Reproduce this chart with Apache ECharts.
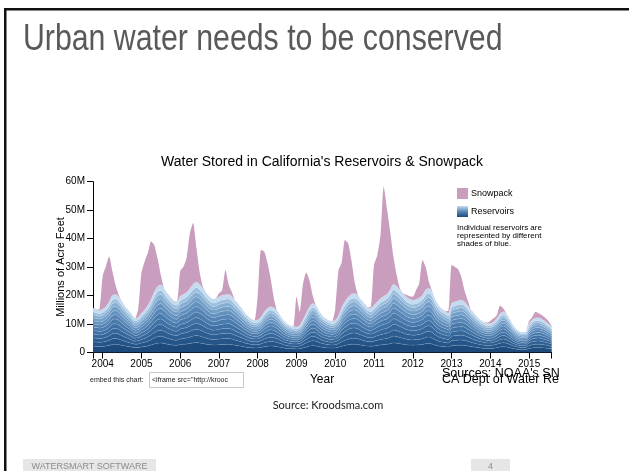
<!DOCTYPE html>
<html>
<head>
<meta charset="utf-8">
<script src="https://cdn.jsdelivr.net/npm/echarts@6/dist/echarts.min.js"></script>
<style>
html,body{margin:0;padding:0;background:#fff;}
#chart{width:629px;height:471px;}
</style>
</head>
<body>
<div id="chart"></div>
<script>
// Monthly values, Oct 2003 .. Aug 2015 (millions of acre-feet)
const startYear = 2003, startMonth = 10; // October 2003
const yTicks = [0, 10, 20, 30, 40, 50, 60];

const reservoirTotal = [
  15.5, 15.2, 14.9,
  15.3, 16.2, 17.8, 20.0, 20.4, 19.5, 17.8, 16.2, 14.8, 13.4, 12.0, 12.4,
  13.8, 15.0, 16.6, 18.8, 21.3, 23.2, 23.8, 22.5, 20.8, 19.5, 18.3, 18.0,
  19.8, 20.5, 21.2, 22.5, 24.0, 24.8, 24.0, 22.7, 21.0, 19.8, 18.9, 19.0,
  19.6, 20.1, 20.3, 20.4, 19.7, 18.3, 17.0, 15.6, 14.0, 12.8, 11.8, 11.4,
  11.5, 12.5, 14.2, 15.5, 16.2, 15.7, 14.6, 13.0, 11.3, 10.2, 9.5, 9.1,
  9.0, 9.5, 11.5, 13.8, 16.0, 17.2, 16.5, 14.6, 13.0, 12.0, 11.3, 11.0,
  11.4, 13.0, 15.8, 17.8, 19.5, 20.5, 20.7, 20.0, 18.5, 17.2, 16.0, 15.6,
  16.6, 17.8, 19.0, 19.8, 20.5, 22.0, 24.0, 23.3, 22.0, 20.8, 19.5, 18.8,
  18.4, 18.6, 19.2, 20.1, 22.0, 22.6, 21.3, 18.5, 16.6, 15.4, 14.6, 13.8,
  17.2, 17.8, 18.1, 18.4, 17.8, 16.5, 15.0, 13.7, 12.4, 11.4, 10.7, 10.2,
  10.2, 10.8, 12.0, 13.6, 14.3, 13.5, 11.8, 9.8, 8.3, 7.4, 7.2, 7.4,
  10.0, 11.5, 12.1, 12.2, 11.7, 11.0, 10.0, 9.0
];

const snowpack = [
  0, 0, 0.5,
  11.5, 14.1, 15.9, 8.5, 3.2, 0.6, 0, 0, 0, 0, 0, 3.0,
  14.2, 17.0, 18.4, 20.3, 16.4, 9.8, 3.4, 0, 0, 0, 0, 0,
  8.8, 9.6, 12.3, 19.5, 21.5, 12.2, 4.4, 0.5, 0, 0, 0, 0,
  1.2, 1.8, 8.7, 3.5, 1.5, 0, 0, 0, 0, 0, 0, 0,
  8.5, 23.5, 21.3, 16.0, 9.8, 3.3, 0, 0, 0, 0, 0, 0,
  10.6, 4.8, 12.5, 14.3, 9.4, 2.9, 0, 0, 0, 0, 0, 0,
  4.0, 15.9, 15.8, 21.7, 18.8, 11.9, 4.1, 0.3, 0, 0, 0, 0.5,
  14.1, 16.4, 22.2, 38.5, 30.1, 20.4, 9.6, 3.9, 0.5, 0, 0.8, 1.0,
  1.2, 3.3, 5.0, 12.4, 8.0, 2.2, 0.3, 0, 0, 0, 0, 0.8,
  13.5, 12.3, 11.1, 8.2, 4.1, 1.9, 0, 0, 0, 0, 0, 0.3,
  0.9, 1.2, 1.1, 2.8, 1.2, 0, 0, 0, 0, 0, 0, 0,
  1.0, 1.0, 2.2, 1.5, 1.4, 1.2, 1.1, 0.3
];

// Approximate share of total storage held by each reservoir band (bottom -> top)
const reservoirShares = [0.14, 0.10, 0.09, 0.085, 0.08, 0.08, 0.075, 0.07, 0.07, 0.065, 0.065, 0.08];
const blueShades = ['#1c4a7b', '#245588', '#2c5e92', '#35679b', '#3f71a4', '#4a7bad', '#5685b6', '#6391bf', '#739ec8', '#86add2', '#9dc0de', '#c3daef'];
const snowColor = '#c89dbd';

const FONT = "'Liberation Sans', Helvetica, Arial, sans-serif";

// month categories "YYYY-MM"
const months = reservoirTotal.map((_, i) => {
  const m = startMonth - 1 + i;
  const y = startYear + Math.floor(m / 12);
  const mm = (m % 12) + 1;
  return y + '-' + (mm < 10 ? '0' + mm : mm);
});
const lastIdx = months.length - 1;

const series = [];
reservoirShares.forEach((share, k) => {
  series.push({
    type: 'line', stack: 'water', smooth: 0.3, showSymbol: false, silent: true,
    lineStyle: { width: 0.6, color: 'rgba(255,255,255,0.22)' },
    areaStyle: { color: blueShades[k], opacity: 1 },
    data: reservoirTotal.map(v => +(v * share).toFixed(3))
  });
});
series.push({
  type: 'line', stack: 'water', smooth: 0.2, showSymbol: false, silent: true,
  lineStyle: { width: 0 },
  areaStyle: { color: snowColor, opacity: 1 },
  data: snowpack
});

const chart = echarts.init(document.getElementById('chart'), null, { renderer: 'canvas' });
chart.setOption({
  animation: false,
  backgroundColor: '#ffffff',
  grid: { left: 93, right: 77.3, top: 181.7, bottom: 118.5 },
  xAxis: {
    type: 'category', data: months, boundaryGap: false,
    axisLine: { show: true, lineStyle: { color: '#000', width: 1 } },
    axisTick: { show: true, length: 6, lineStyle: { color: '#000' },
      interval: (i, v) => i === 0 || i === lastIdx || v.slice(5) === '01' },
    axisLabel: { interval: (i, v) => v.slice(5) === '01', formatter: v => v.slice(0, 4),
      color: '#000', fontSize: 10, fontFamily: FONT, margin: 7 },
    splitLine: { show: false }
  },
  yAxis: {
    type: 'value', min: 0, max: 60, interval: 10,
    axisLine: { show: true, lineStyle: { color: '#000', width: 1 } },
    axisTick: { show: true, length: 6, lineStyle: { color: '#000' } },
    axisLabel: { formatter: v => v === 0 ? '0' : v + 'M', color: '#000', fontSize: 10, fontFamily: FONT, margin: 8 },
    splitLine: { show: false }
  },
  series: series,
  graphic: [
    // slide frame
    { type: 'rect', shape: { x: 4, y: 8, width: 625, height: 2.5 }, style: { fill: '#111' } },
    { type: 'rect', shape: { x: 4, y: 8, width: 2.5, height: 463 }, style: { fill: '#111' } },
    // slide title
    { type: 'text', x: 23, y: 40, scaleX: 0.818, style: { text: 'Urban water needs to be conserved', fill: '#595959', font: "37px 'Liberation Sans', Arial, sans-serif", verticalAlign: 'middle' } },
    // chart title
    { type: 'text', x: 322, y: 162.5, style: { text: "Water Stored in California's Reservoirs & Snowpack", fill: '#000', font: '14px ' + FONT, align: 'center', verticalAlign: 'middle' } },
    // y axis title
    { type: 'text', x: 60.5, y: 267, rotation: Math.PI / 2, style: { text: 'Millions of Acre Feet', fill: '#000', font: '11px ' + FONT, align: 'center', verticalAlign: 'middle' } },
    // x axis title
    { type: 'text', x: 322, y: 380, style: { text: 'Year', fill: '#000', font: '12px ' + FONT, align: 'center', verticalAlign: 'middle' } },
    // legend
    { type: 'rect', shape: { x: 457, y: 188, width: 11, height: 11 }, style: { fill: snowColor } },
    { type: 'text', x: 471, y: 193.5, style: { text: 'Snowpack', fill: '#000', font: '9px ' + FONT, verticalAlign: 'middle' } },
    { type: 'rect', shape: { x: 457, y: 206, width: 11, height: 11 }, style: { fill: new echarts.graphic.LinearGradient(0, 0, 0, 1, [{ offset: 0, color: '#c6dcf0' }, { offset: 0.5, color: '#5a88b8' }, { offset: 1, color: '#1c4a7b' }]) } },
    { type: 'text', x: 471, y: 211.5, style: { text: 'Reservoirs', fill: '#000', font: '9px ' + FONT, verticalAlign: 'middle' } },
    { type: 'text', x: 457, y: 228, style: { text: 'Individual reservoirs are', fill: '#000', font: '8px ' + FONT, verticalAlign: 'middle' } },
    { type: 'text', x: 457, y: 235.7, style: { text: 'represented by different', fill: '#000', font: '8px ' + FONT, verticalAlign: 'middle' } },
    { type: 'text', x: 457, y: 243.4, style: { text: 'shades of blue.', fill: '#000', font: '8px ' + FONT, verticalAlign: 'middle' } },
    // embed box
    { type: 'text', x: 90, y: 380, style: { text: 'embed this chart:', fill: '#222', font: '7px ' + FONT, verticalAlign: 'middle' } },
    { type: 'rect', shape: { x: 149.5, y: 372.5, width: 94, height: 15 }, style: { fill: '#fff', stroke: '#c8c8c8', lineWidth: 1 } },
    { type: 'text', x: 152, y: 380, style: { text: '<iframe src="http://krooc', fill: '#222', font: '7px ' + FONT, verticalAlign: 'middle' } },
    // sources (overlapping in original)
    { type: 'text', x: 442, y: 373.5, style: { text: "Sources: NOAA's SN", fill: '#000', font: '12.5px ' + FONT, verticalAlign: 'middle' } },
    { type: 'text', x: 442, y: 380, style: { text: 'CA Dept of Water Re', fill: '#000', font: '12.5px ' + FONT, verticalAlign: 'middle' } },
    // image source
    { type: 'text', x: 328, y: 405, style: { text: 'Source: Kroodsma.com', fill: '#222', font: "11px Lato, 'Open Sans', sans-serif", align: 'center', verticalAlign: 'middle' } },
    // footer
    { type: 'rect', shape: { x: 23, y: 459, width: 133, height: 12 }, style: { fill: '#e6e6e6' } },
    { type: 'text', x: 89.5, y: 466.5, style: { text: 'WATERSMART SOFTWARE', fill: '#8c8c8c', font: '9px ' + FONT, align: 'center', verticalAlign: 'middle' } },
    { type: 'rect', shape: { x: 471, y: 459, width: 39, height: 12 }, style: { fill: '#e6e6e6' } },
    { type: 'text', x: 490.5, y: 466.5, style: { text: '4', fill: '#8c8c8c', font: '9px ' + FONT, align: 'center', verticalAlign: 'middle' } }
  ]
});
</script>
</body>
</html>
